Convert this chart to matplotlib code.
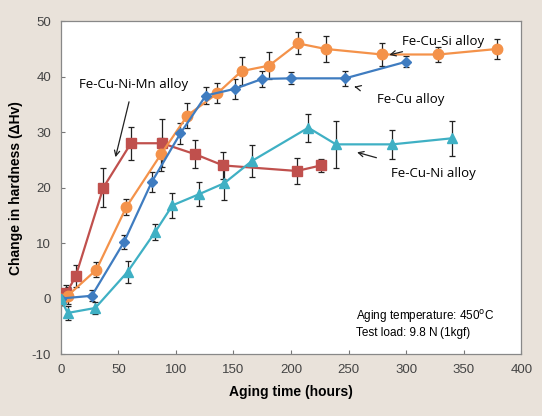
import matplotlib

matplotlib.use("Agg")
import matplotlib.pyplot as plt

plt.rcParams["font.family"] = ["Liberation Sans", "DejaVu Sans"]
plt.rcParams["axes.unicode_minus"] = False

# Fe-Cu-Ni-Mn alloy (red squares)
mn_t = [0, 5, 13, 37, 61, 88, 117, 141, 205, 226]
mn_h = [0, 1, 4, 20, 28, 28, 26, 24, 23, 24]
mn_e = [1.2, 1.5, 2, 3.5, 3, 4.3, 2.5, 2.5, 2.3, 1.2]

# Fe-Cu-Si alloy (orange circles)
si_t = [0, 6, 31, 57, 87, 110, 136, 157, 181, 206, 230, 279, 328, 379]
si_h = [0, 0.5, 5.2, 16.5, 26, 33, 37, 41, 42, 46, 45, 44, 44, 45]
si_e = [1.2, 1.5, 1.3, 1.5, 3, 2.2, 1.8, 2.5, 2.4, 2, 2.4, 2, 1.3, 1.8]

# Fe-Cu alloy (blue diamonds)
cu_t = [0, 27, 55, 79, 104, 126, 151, 175, 200, 247, 300]
cu_h = [0, 0.5, 10.2, 21, 29.8, 36.6, 37.8, 39.6, 39.7, 39.7, 42.7]
cu_e = [1.2, 1, 1.2, 1.8, 1.9, 1.6, 1.8, 1.5, 1.1, 1.4, 1]

# Fe-Cu-Ni alloy (cyan triangles)
ni_t = [0, 6, 30, 58, 82, 97, 120, 142, 166, 215, 239, 288, 340]
ni_h = [0, -2.6, -1.7, 4.8, 12, 16.8, 18.8, 20.8, 24.8, 30.8, 27.8, 27.8, 28.9]
ni_e = [1.2, 1.3, 1, 2, 1.5, 2.3, 2.2, 3, 2.8, 2.5, 4.3, 2.6, 3.2]

BG = "#e9e2da"
ANN = ["Open Sans", "DejaVu Sans"]

fig = plt.figure(figsize=(5.42, 4.16), dpi=100, facecolor=BG)
ax = fig.add_axes([0.112, 0.149, 0.850, 0.800])
ax.set_facecolor("white")

series = [
    (mn_t, mn_h, mn_e, "#c0504d", "s", 7),
    (si_t, si_h, si_e, "#f4924a", "o", 7.5),
    (cu_t, cu_h, cu_e, "#3f7cc0", "D", 5.5),
    (ni_t, ni_h, ni_e, "#3fb0c4", "^", 7),
]
for t, h, e, col, mk, ms in series:
    ax.errorbar(t, h, yerr=e, fmt="none", ecolor="#222222", elinewidth=0.9,
                capsize=2.2, capthick=0.9, zorder=2)
    ax.plot(t, h, color=col, marker=mk, markersize=ms, linewidth=1.6, zorder=3)

ax.set_xlim(0, 400)
ax.set_ylim(-10, 50)
ax.set_xticks(range(0, 401, 50))
ax.set_yticks(range(-10, 51, 10))
ax.tick_params(direction="in", length=3, labelsize=9.5, colors="#777777",
               labelcolor="#444444", pad=7)
for s in ax.spines.values():
    s.set_color("#888888")
    s.set_linewidth(0.9)

ax.set_xlabel("Aging time (hours)", fontsize=10, fontweight="bold", labelpad=7)
ax.set_ylabel("Change in hardness (ΔHv)", fontsize=10, fontweight="bold", labelpad=6)

arrow = dict(arrowstyle="->", color="#222222", lw=0.9)
ax.annotate("Fe-Cu-Ni-Mn alloy", xy=(47, 25), xytext=(63, 38.6), fontsize=9.5,
            family=ANN, ha="center", va="center",
            arrowprops=dict(arrow, shrinkA=6))
ax.annotate("Fe-Cu-Si alloy", xy=(283, 43.8), xytext=(296, 46.3), fontsize=9.5,
            family=ANN, ha="left", va="center", arrowprops=arrow)
ax.annotate("Fe-Cu alloy", xy=(255, 38.2), xytext=(275, 35.8), fontsize=9.5,
            family=ANN, ha="left", va="center", arrowprops=dict(arrow, shrinkA=14))
ax.annotate("Fe-Cu-Ni alloy", xy=(255, 26.5), xytext=(287, 22.5), fontsize=9.5,
            family=ANN, ha="left", va="center", arrowprops=dict(arrow, shrinkA=18))

ax.text(256, -3.2, "Aging temperature: 450$^{\\rm o}$C", fontsize=8.5, ha="left", va="center")
ax.text(256, -6.3, "Test load: 9.8 N\u2009(1kgf)", fontsize=8.5, ha="left", va="center")

fig.savefig("out.png", dpi=100, facecolor=BG)
